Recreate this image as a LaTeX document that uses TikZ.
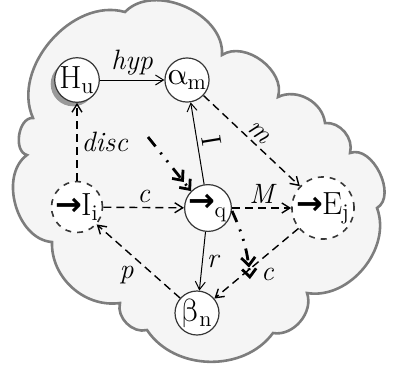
\documentclass[tikz,border=0pt]{standalone}
\usepackage{fontspec}
\newfontfamily\greekfont{Latin Modern Math}
\newfontfamily\symfont{DejaVu Sans}
\usepackage{tikz}
\usetikzlibrary{arrows.meta,shadows}
\definecolor{CloudFill}{RGB}{245,245,245}
\definecolor{CloudLine}{RGB}{125,125,125}
\definecolor{NodeLine}{RGB}{55,55,55}
\newcommand{\inarr}{{\symfont\bfseries →}\kern-0.5pt}

\begin{document}
\begin{tikzpicture}[x=0.5pt,y=-0.5pt,
    state/.style={circle, draw=NodeLine, fill=white, line width=0.6pt, minimum size=22pt, inner sep=0pt, font=\fontsize{16}{16}\selectfont},
    hidden/.style={state, dashed, line width=0.8pt},
    link/.style={draw, line width=0.5pt, -{Straight Barb[length=4pt,width=5pt]}},
    dlink/.style={link, line width=0.7pt, dash pattern=on 4pt off 2.5pt},
    flow/.style={line width=1.4pt, dash pattern=on 6pt off 4pt on 1pt off 4pt on 1pt off 4pt,
      -{Straight Barb[length=4pt,width=7pt]Straight Barb[length=4pt,width=7pt]}},
    lab/.style={font=\fontsize{14}{14}\selectfont\itshape, inner sep=2pt}]
  \useasboundingbox (0,0) rectangle (395,365);
  % cloud
  \draw[fill=CloudFill, draw=CloudLine, line width=1.3pt] (33,118)
    \foreach \cx/\cy/\bnd in {125/12/65, 222/55/70, 278/97/70, 325/123/55, 350/153/55,
      377/208/85, 307/293/60, 273/333/60, 147/330/55, 120/303/60, 52/242/50, 27/155/70} {
      to[bend left=\bnd] (\cx,\cy)
    } to[bend left=85] (33,118) -- cycle;
  % states
  \node[state, drop shadow={shadow xshift=-2pt, shadow yshift=-2pt, fill=gray!80, opacity=1}] (hu) at (77,80) {H\textsubscript{u}};
  \node[state] (am) at (187,80) {{\greekfont α}\textsubscript{m}};
  \node[hidden, minimum size=23pt] (ii) at (77,207) {\inarr I\textsubscript{i}};
  \node[state] (q) at (208,208) {\inarr\textsubscript{q}};
  \node[hidden, minimum size=28pt] (ej) at (323,208) {\inarr E\textsubscript{j}};
  \node[state] (bn) at (197,313) {{\greekfont β}\textsubscript{n}};
  % links
  \path[link] (hu) -- node[lab, above] {hyp} (am);
  \path[dlink] (ii) -- node[lab, right] {disc} (hu);
  \path[dlink] (am) -- node[lab, above, sloped] {m} (ej);
  \path[link] (q) -- node[lab, above, sloped, font=\fontsize{14}{14}\selectfont] {I} (am);
  \path[dlink] (ii) -- node[lab, above] {c} (q);
  \path[dlink] (q) -- node[lab, above] {M} (ej);
  \path[link] (q) -- node[lab, right] {r} (bn);
  \path[dlink] (bn) -- node[lab, below left] {p} (ii);
  \path[dlink] (ej) -- node[lab, below right] {c} (bn);
  % flow through q
  \coordinate (fin) at (148,137);
  \coordinate (fout) at (250,279);
  \draw[flow] (fin) -- (q.north west);
  \draw[flow] (q.east) ++(0,3) to[bend left=10] (fout);
\end{tikzpicture}
\end{document}
